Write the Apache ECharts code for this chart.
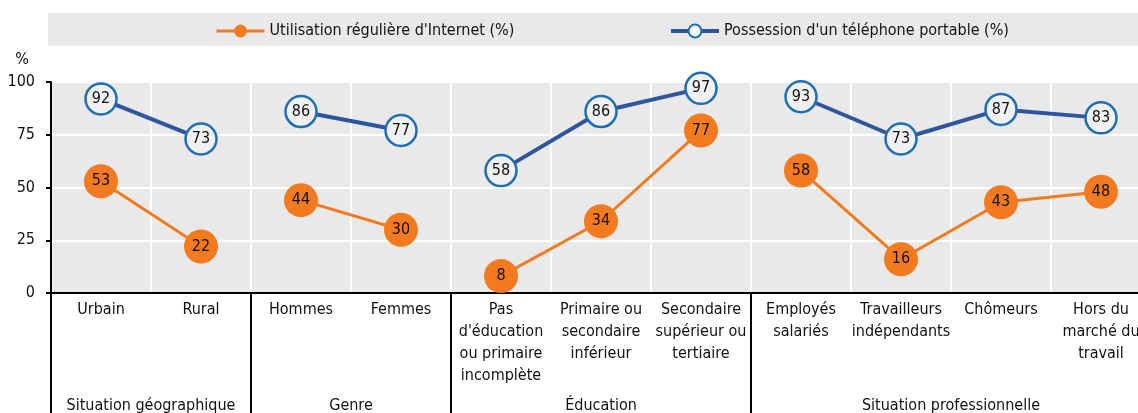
<!DOCTYPE html>
<html>
<head>
<meta charset="utf-8">
<script src="https://cdn.jsdelivr.net/npm/echarts@6/dist/echarts.min.js"></script>
<style>
html, body { margin: 0; padding: 0; background: #fff; }
#chart { width: 1138px; height: 413px; }
</style>
</head>
<body>
<div id="chart"></div>
<script>
// categories, groupes et valeurs
const categories = [
    'Urbain', 'Rural',
    'Hommes', 'Femmes',
    "Pas\nd'éducation\nou primaire\nincomplète", 'Primaire ou\nsecondaire\ninférieur', 'Secondaire\nsupérieur ou\ntertiaire',
    'Employés\nsalariés', 'Travailleurs\nindépendants', 'Chômeurs', 'Hors du\nmarché du\ntravail'
]
const groupNames = ['Situation géographique', 'Genre', 'Éducation', 'Situation professionnelle']
const groupSizes = [2, 2, 3, 4]
const internet = [53, 22, 44, 30, 8, 34, 77, 58, 16, 43, 48]
const telephone = [92, 73, 86, 77, 58, 86, 97, 93, 73, 87, 83]
const yTicks = [0, 25, 50, 75, 100]

const nameInternet = "Utilisation régulière d'Internet (%)"
const namePhone = "Possession d'un téléphone portable (%)"

const font = '"DejaVu Sans Condensed", "Liberation Sans Narrow", sans-serif'
const orange = '#f47a20'
const blueLine = '#2f559e'
const blueRing = '#1f6db5'

// début de chaque groupe (indice de catégorie)
const groupStarts = []
let acc = 0
groupSizes.forEach(n => { groupStarts.push(acc); acc += n })

// une série par groupe pour couper la ligne entre les groupes
const sliceGroup = (values, g) => values.map((v, i) =>
    (i >= groupStarts[g] && i < groupStarts[g] + groupSizes[g]) ? v : '-')

const series = []
groupNames.forEach((gn, g) => {
    series.push({
        name: nameInternet,
        type: 'line',
        data: sliceGroup(internet, g),
        symbol: 'circle',
        symbolSize: 34,
        lineStyle: { color: orange, width: 3 },
        itemStyle: { color: orange, borderWidth: 0 },
        label: { show: true, position: 'inside', color: '#111', fontSize: 16, fontFamily: font },
        z: 3
    })
    series.push({
        name: namePhone,
        type: 'line',
        data: sliceGroup(telephone, g),
        symbol: 'circle',
        symbolSize: 31,
        lineStyle: { color: blueLine, width: 4 },
        itemStyle: { color: '#eef0f2', borderColor: blueRing, borderWidth: 2.5 },
        label: { show: true, position: 'inside', color: '#111', fontSize: 16, fontFamily: font },
        z: 4
    })
})

const chart = echarts.init(document.getElementById('chart'))

const option = {
    animation: false,
    textStyle: { fontFamily: font },
    grid: {
        left: 51, top: 82, width: 1100, bottom: 120,
        outerBoundsMode: 'none',
        containLabel: false,
        show: true, backgroundColor: '#e9e9e9', borderWidth: 0
    },
    legend: [
        {
            data: [{
                name: nameInternet,
                itemStyle: { color: orange, borderWidth: 0 },
                lineStyle: { color: orange, width: 3 }
            }],
            left: 210, top: 18,
            itemWidth: 48, itemHeight: 16, itemGap: 3,
            textStyle: { fontSize: 16, color: '#111', fontFamily: font }
        },
        {
            data: [{
                name: namePhone,
                itemStyle: { color: '#fff', borderColor: blueRing, borderWidth: 2 },
                lineStyle: { color: blueLine, width: 4 }
            }],
            left: 664, top: 18,
            itemWidth: 48, itemHeight: 16, itemGap: 3,
            textStyle: { fontSize: 16, color: '#111', fontFamily: font }
        }
    ],
    xAxis: {
        type: 'category',
        data: categories,
        boundaryGap: true,
        axisLine: { lineStyle: { color: '#000', width: 2 } },
        axisTick: {
            show: true,
            length: 120,
            interval: (index) => groupStarts.includes(index),
            lineStyle: { color: '#000', width: 2 }
        },
        splitLine: { show: true, interval: 0, lineStyle: { color: '#fff', width: 2 } },
        axisLabel: {
            interval: 0,
            margin: 6,
            fontSize: 16,
            lineHeight: 22,
            color: '#111',
            verticalAlign: 'top',
            align: 'center'
        }
    },
    yAxis: {
        type: 'value',
        min: yTicks[0],
        max: yTicks[yTicks.length - 1],
        interval: 25,
        name: '%',
        nameLocation: 'end',
        nameGap: 14,
        nameTextStyle: { fontSize: 16, color: '#111', align: 'right', padding: [0, 22, 0, 0] },
        axisLine: { show: true, lineStyle: { color: '#000', width: 2 } },
        axisTick: { show: true, length: 5, lineStyle: { color: '#000', width: 2 } },
        axisLabel: { fontSize: 16, color: '#111', margin: 16 },
        splitLine: { lineStyle: { color: '#fff', width: 2 } }
    },
    series: series
}

chart.setOption(option)

// bandeau gris de la légende + libellés des groupes sous l'axe
const graphics = [{
    type: 'rect',
    shape: { x: 48, y: 13, width: 1090, height: 33 },
    style: { fill: '#e9e9e9' },
    z: -10
}]
groupNames.forEach((gn, g) => {
    const x0 = chart.convertToPixel({ xAxisIndex: 0 }, groupStarts[g])
    const x1 = chart.convertToPixel({ xAxisIndex: 0 }, groupStarts[g] + groupSizes[g] - 1)
    graphics.push({
        type: 'text',
        x: (x0 + x1) / 2,
        y: 406,
        style: {
            text: gn, fill: '#111', fontSize: 16, fontFamily: font,
            align: 'center', verticalAlign: 'middle'
        }
    })
})
chart.setOption({ graphic: graphics })
</script>
</body>
</html>
